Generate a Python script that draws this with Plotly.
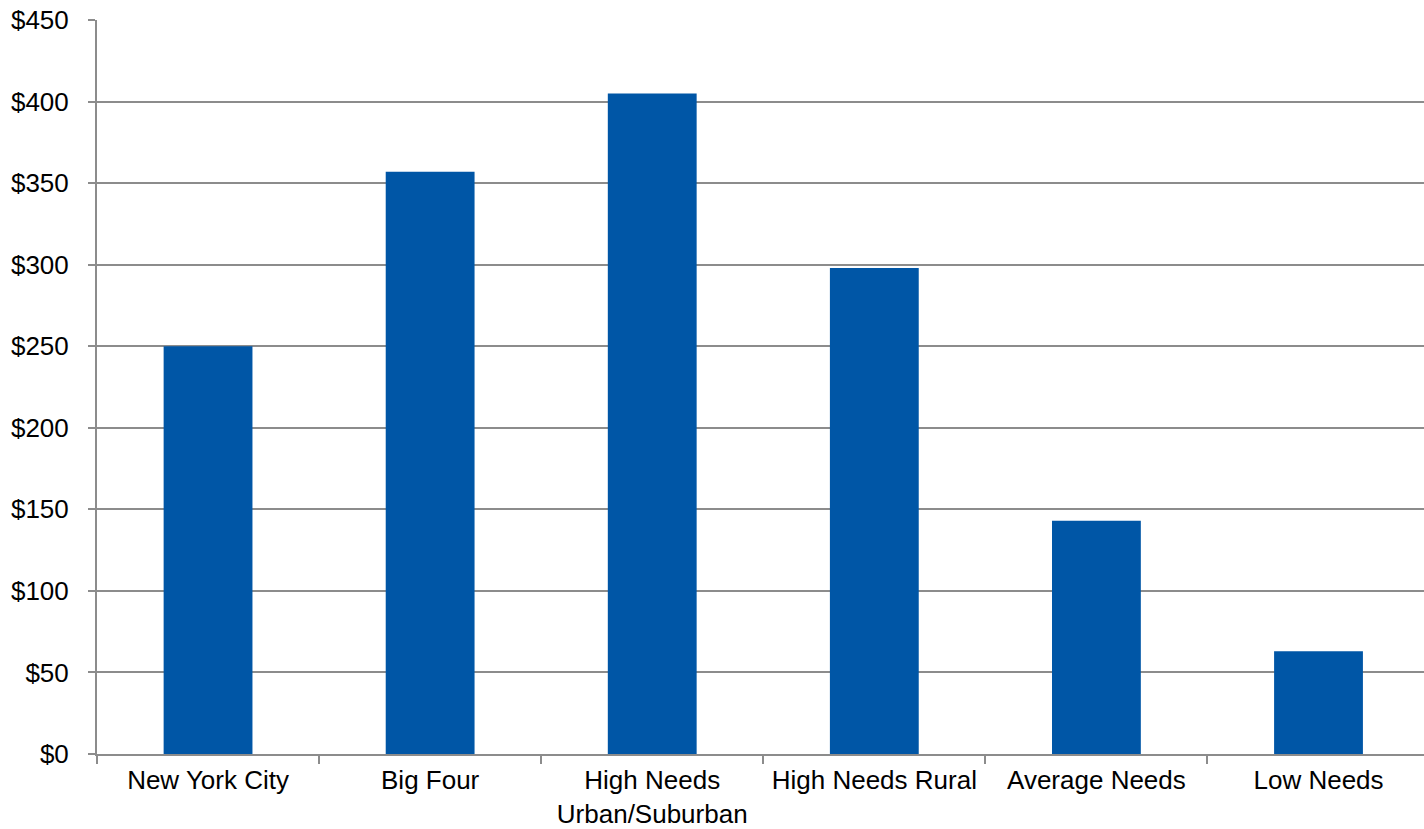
import plotly.graph_objects as go

categories = ["New York City", "Big Four", "High Needs<br>Urban/Suburban",
              "High Needs Rural", "Average Needs", "Low Needs"]
values = [250, 357, 405, 298, 143, 63]
y_ticks = [0, 50, 100, 150, 200, 250, 300, 350, 400, 450]

fig = go.Figure(go.Bar(x=categories, y=values, marker=dict(color="#0056A6", line=dict(width=0)),
                       width=0.4))

fig.update_layout(
    width=1424, height=829,
    margin=dict(l=97, r=0, t=20, b=75),
    plot_bgcolor="white", paper_bgcolor="white",
    font=dict(family="Liberation Sans, Arial, sans-serif", size=26, color="black"),
    showlegend=False,
)
fig.update_xaxes(
    range=[-0.5, 5.475], automargin=False,
    showline=True, linecolor="#8c8c8c", linewidth=2,
    ticks="outside", tickson="boundaries", ticklen=8, tickcolor="#8c8c8c", tickwidth=2,
    showgrid=False, tickfont=dict(size=26), ticklabelstandoff=2,
)
fig.update_yaxes(
    range=[0, 450], tickvals=y_ticks, ticktext=[f"${v}" for v in y_ticks],
    automargin=False,
    showline=True, linecolor="#8c8c8c", linewidth=2,
    ticks="outside", ticklen=7, tickcolor="#8c8c8c", tickwidth=2,
    showgrid=True, gridcolor="#8c8c8c", gridwidth=1.5, zeroline=False,
    tickfont=dict(size=26), ticklabelstandoff=14,
)
fig.write_html("out.html")
